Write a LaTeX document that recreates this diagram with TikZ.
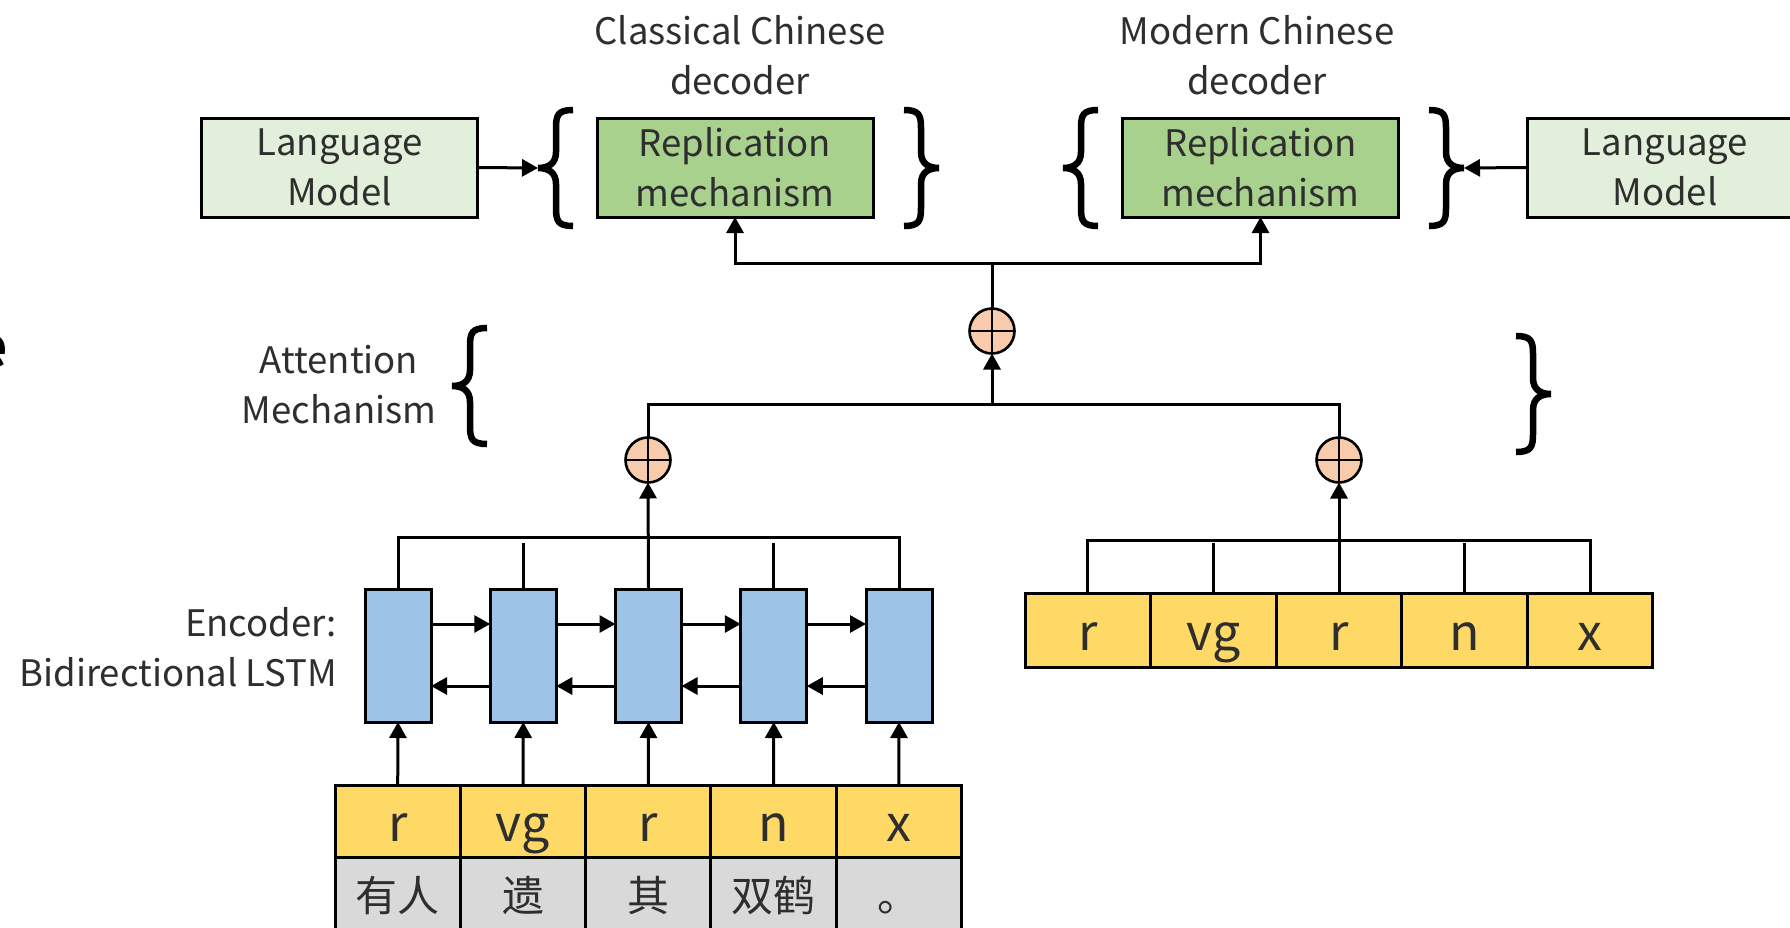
\documentclass[tikz,border=0pt]{standalone}
\usepackage{fontspec}
\setmainfont{Noto Sans CJK SC}
\usetikzlibrary{arrows.meta}

\definecolor{lmgreen}{HTML}{E2EFDA}
\definecolor{repgreen}{HTML}{A9D18E}
\definecolor{lstmblue}{HTML}{9DC3E6}
\definecolor{tagyellow}{HTML}{FFD966}
\definecolor{wordgray}{HTML}{D9D9D9}
\definecolor{sumorange}{HTML}{F8CBAD}
\definecolor{ink}{HTML}{2E2E2E}

\tikzset{
  lbrace/.pic={
    \draw[line width=6.5pt, line cap=butt]
      (35,-58) .. controls (20,-58) and (18,-53) .. (18,-40)
      -- (18,-16) .. controls (18,-4) and (10,0) .. (0,0)
      .. controls (10,0) and (18,4) .. (18,16)
      -- (18,40) .. controls (18,53) and (20,58) .. (35,58);
  },
  rbrace/.pic={
    \draw[line width=6.5pt, line cap=butt]
      (-35,-58) .. controls (-20,-58) and (-18,-53) .. (-18,-40)
      -- (-18,-16) .. controls (-18,-4) and (-10,0) .. (0,0)
      .. controls (-10,0) and (-18,4) .. (-18,16)
      -- (-18,40) .. controls (-18,53) and (-20,58) .. (-35,58);
  }
}

\begin{document}
\begin{tikzpicture}[x=1pt, y=-1pt,
  every node/.style={inner sep=0pt, outer sep=0pt, text=ink},
  lbl/.style={font=\fontsize{36.5}{50}\selectfont, align=center},
  blockbox/.style={draw=black, line width=3pt, minimum width=276pt, minimum height=99pt, lbl},
  lstm/.style={draw=black, line width=3pt, fill=lstmblue, minimum width=66pt, minimum height=133pt},
  tagcell/.style={draw=black, line width=3pt, fill=tagyellow, minimum width=125.4pt,
    minimum height=72pt, font=\fontsize{50}{50}\selectfont, text height=41pt, text depth=0pt},
  wordcell/.style={draw=black, line width=3pt, fill=wordgray, minimum width=125.4pt,
    minimum height=76pt, font=\fontsize{42}{42}\selectfont, text height=32pt, text depth=0pt},
  sum/.style={circle, draw=black, line width=2.6pt, fill=sumorange, minimum size=45pt},
  wire/.style={line width=3pt},
  arr/.style={wire, -{Triangle[length=16pt,width=17pt]}}
]
\path[use as bounding box, fill=white] (0,0) rectangle (1790,927);

% fragment of a heading at the left edge
\node[font=\fontsize{56}{60}\selectfont\bfseries, text=black, anchor=base east] (frag) at (8,367) {e};

% decoder titles
\node[lbl] (clsTitle) at (740,55) {Classical Chinese\\decoder};
\node[lbl] (modTitle) at (1257,55) {Modern Chinese\\decoder};

% decoder row
\node[blockbox, fill=lmgreen]  (lmL)  at (339.5,167.5) {Language\\Model};
\node[blockbox, fill=repgreen] (repC) at (735,167.5)   {Replication\\mechanism};
\node[blockbox, fill=repgreen] (repM) at (1260.5,167.5){Replication\\mechanism};
\node[blockbox, fill=lmgreen]  (lmR)  at (1665,167.5)  {Language\\Model};

\coordinate (bC1) at (538,168);
\coordinate (bC2) at (939,168);
\coordinate (bM1) at (1063,168);
\coordinate (bM2) at (1464,168);
\pic at (bC1) {lbrace};
\pic at (bC2) {rbrace};
\pic at (bM1) {lbrace};
\pic at (bM2) {rbrace};
\draw[arr] (lmL.east) -- (bC1);
\draw[arr] (lmR.west) -- (bM2);

% attention
\node[lbl] (attLabel) at (339,384.5) {Attention\\Mechanism};
\coordinate (bA1) at (452,386);
\coordinate (bA2) at (1551,394);
\pic at (bA1) {lbrace};
\pic at (bA2) {rbrace};

\node[sum] (plusT) at (992,331) {};
\node[sum] (plusL) at (648,460) {};
\node[sum] (plusR) at (1339,460) {};
\foreach \s in {plusT,plusL,plusR}{
  \draw[line width=2.6pt] (\s.north) -- (\s.south) (\s.west) -- (\s.east);
}

\coordinate (jT) at (992,263);
\coordinate (jM) at (992,404);
\draw[wire] (plusT.north) -- (jT);
\draw[arr] (jT) -| (repC.south);
\draw[arr] (jT) -| (repM.south);
\draw[arr] (jM) -- (plusT.south);
\draw[wire] (plusL.north) -- (plusL.north |- jM) -- (plusR.north |- jM) -- (plusR.north);

% encoder
\node[lbl, align=right, anchor=east] (encLabel) at (337,647.5) {Encoder:\\Bidirectional LSTM};

\foreach \i/\x in {1/398,2/523.25,3/648.5,4/773.75,5/899}{
  \node[lstm] (l\i) at (\x,655.5) {};
}
\coordinate (fwdY) at (0,624);
\coordinate (bwdY) at (0,686);
\foreach \a/\b in {1/2,2/3,3/4,4/5}{
  \draw[arr] (l\a.east |- fwdY) -- (l\b.west |- fwdY);
  \draw[arr] (l\b.west |- bwdY) -- (l\a.east |- bwdY);
}

\coordinate (jE) at (648,537);
\coordinate (stubE) at (0,543);
\draw[wire] (l1.north) -- (l1.north |- jE) -- (l5.north |- jE) -- (l5.north);
\draw[wire] (l2.north) -- (l2.north |- stubE);
\draw[wire] (l4.north) -- (l4.north |- stubE);
\draw[arr] (l3.north) -- (plusL.south);

% input table
\foreach \i/\t/\w in {1/r/有人,2/vg/遗,3/r/其,4/n/双鹤,5/x/。}{
  \node[tagcell]  (ey\i) at (397.7+125.3*\i-125.3,821) {\t};
  \node[wordcell] (gw\i) at (397.7+125.3*\i-125.3,895) {\w};
  \draw[arr] (ey\i.north) -- (l\i.south);
}

% modern tag row
\foreach \i/\t in {1/r,2/vg,3/r,4/n,5/x}{
  \node[tagcell, minimum height=74pt] (ry\i) at (1087.8+125.6*\i-125.6,630) {\t};
}
\coordinate (jR) at (1339,540);
\coordinate (stubR) at (0,543);
\draw[wire] (ry1.north) -- (ry1.north |- jR) -- (ry5.north |- jR) -- (ry5.north);
\draw[wire] (ry2.north) -- (ry2.north |- stubR);
\draw[wire] (ry4.north) -- (ry4.north |- stubR);
\draw[arr] (ry3.north) -- (plusR.south);
\end{tikzpicture}
\end{document}
